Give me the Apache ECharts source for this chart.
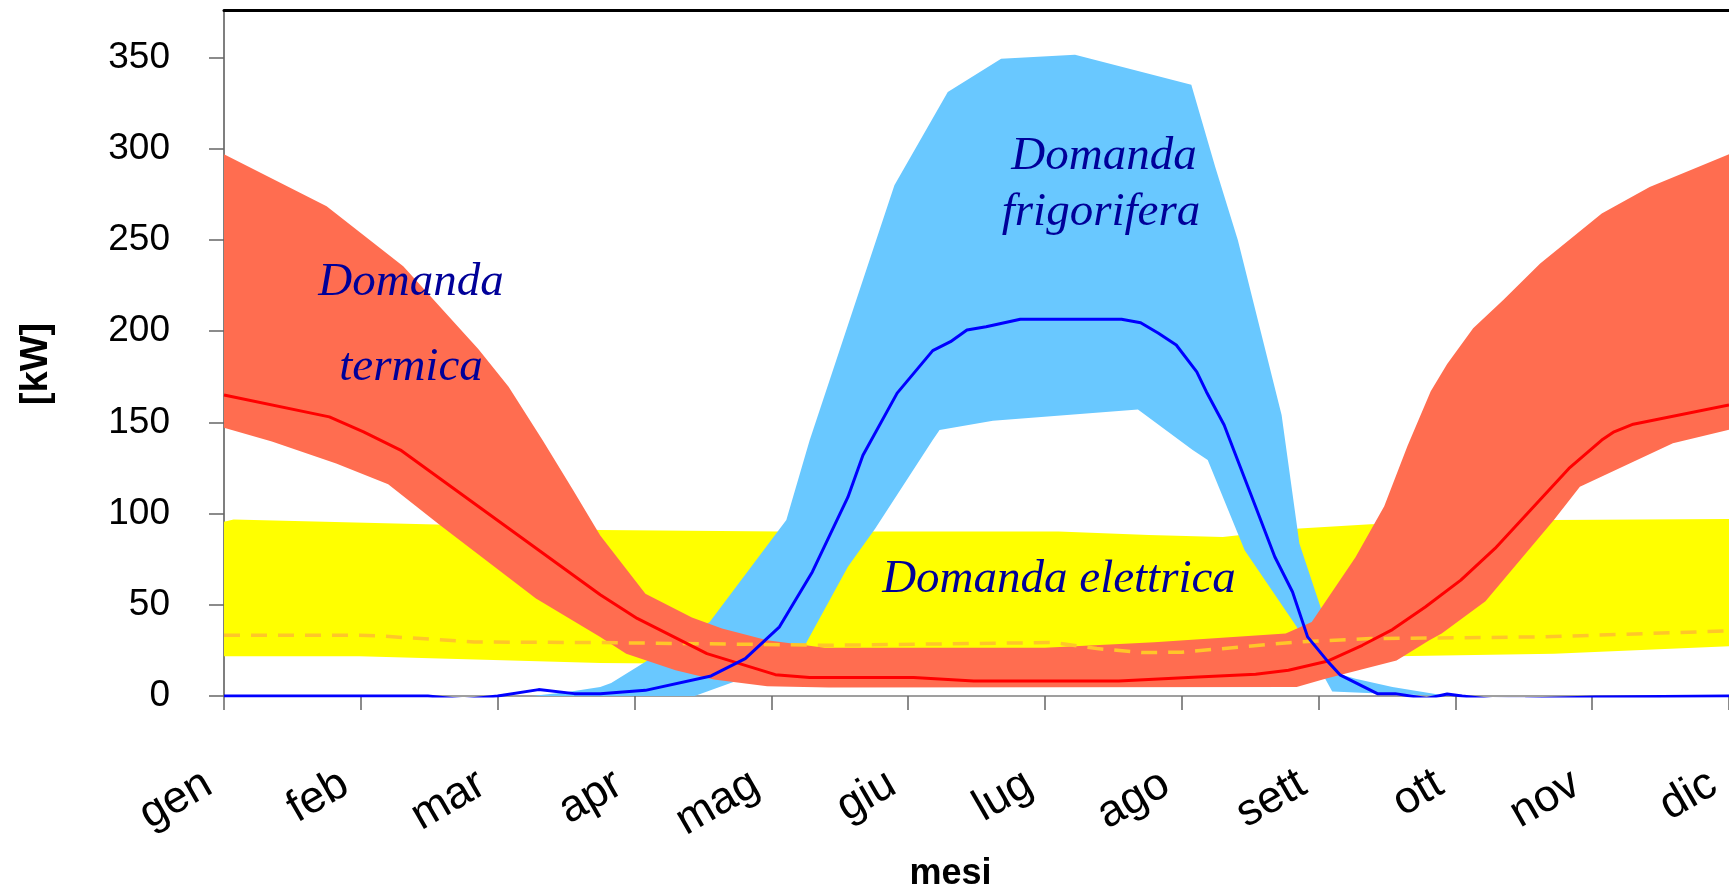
<!DOCTYPE html>
<html>
<head>
<meta charset="utf-8">
<script src="https://cdn.jsdelivr.net/npm/echarts@6/dist/echarts.min.js"></script>
<style>
html,body{margin:0;padding:0;background:#fff;}
#chart{width:1729px;height:889px;}
</style>
</head>
<body>
<div id="chart"></div>
<script>
// x values are in months (0 = gen ... 11 = dic), y values in kW
const months = ['gen','feb','mar','apr','mag','giu','lug','ago','sett','ott','nov','dic'];
const yTicks = [0, 50, 100, 150, 200, 250, 300, 350];
const monthTicks = [0,1,2,3,4,5,6,7,8,9,10,11];

// Domanda termica (band max / min and typical line)
const termicaMax = [[0,297],[0.75,268.5],[1.31,235.5],[1.86,190],[2.08,169.5],[2.33,140],[2.55,113],[2.75,88],[3.08,56],[3.42,43],[3.64,37],[3.97,30.6],[4.39,26.5],[6.0,26.5],[6.8,29.5],[7.76,34.2],[7.95,40.6],[8.27,76],[8.48,104],[8.65,137],[8.82,167],[8.94,182],[9.13,201.5],[9.35,217],[9.62,237],[10.07,264.5],[10.42,279],[11,297]];
const termicaMin = [[0,147],[0.35,139.5],[0.82,127.5],[1.2,116],[1.58,93.6],[2.28,53.4],[2.75,32.4],[2.94,23.2],[3.3,14.1],[3.58,9],[3.97,5.3],[4.42,4.6],[7.84,4.9],[8.05,9.5],[8.57,19.5],[8.81,30.6],[8.9,34.2],[9.22,52],[9.72,96.4],[9.91,114.7],[10.59,138.5],[11,146]];
const termicaLine = [[0,165],[0.77,153],[1.02,144.8],[1.29,134.8],[2.75,55.5],[3.02,42.5],[3.53,23.2],[4.03,11.7],[4.28,10.1],[5.04,10.1],[5.48,8.2],[6.54,8.2],[7.12,10.4],[7.54,11.9],[7.78,14.1],[8.07,19.2],[8.32,27.8],[8.54,36.4],[8.78,48.8],[9.04,63.5],[9.29,80.9],[9.56,102.8],[9.83,124.7],[10.07,140.3],[10.16,144.8],[10.3,149],[11,159.5]];

// Domanda frigorifera
const frigoMax = [[2.25,0],[2.5,2],[2.75,5],[2.83,7.1],[3.55,40.6],[4.11,96.4],[4.28,140],[4.9,280],[5.29,331],[5.68,349.3],[6.22,351.5],[7.07,335],[7.245,290],[7.41,250],[7.73,154],[7.86,83.6],[8.03,45.2],[8.1,18],[8.15,12],[8.27,9.5],[8.54,4.9],[8.92,0.3],[9.0,0]];
const frigoMin = [[2.25,0],[3.44,0],[3.86,11.4],[4.25,28.4],[4.56,70.8],[4.76,91.8],[5.18,140.3],[5.23,145.8],[5.62,150.9],[6.68,157.1],[7.08,134.8],[7.19,129.3],[7.46,79.9],[7.84,37.9],[8.1,2.5],[8.4,1.5],[8.92,0],[9.0,0]];
const frigoLine = [[0,0],[1.49,0],[1.75,-2],[2.0,0],[2.3,3.5],[2.56,1.3],[2.75,1.2],[3.08,3.1],[3.56,11],[3.81,20.5],[4.06,37.9],[4.3,68],[4.56,109],[4.67,132],[4.92,166],[5.18,189.3],[5.31,194.2],[5.43,200.6],[5.57,202.4],[5.82,206.5],[6.56,206.5],[6.7,204.6],[6.83,198.8],[6.96,192.4],[7.11,177.7],[7.18,166.8],[7.31,148.5],[7.38,134.8],[7.54,103.7],[7.68,76.3],[7.81,57],[7.92,32.4],[8.07,18.7],[8.16,11.4],[8.43,1.3],[8.56,1.3],[8.79,-1.4],[8.94,1.1],[9.05,0],[9.27,-1.9],[9.51,-1.6],[10.02,-0.5],[11,0]];

// Domanda elettrica
const elettricaMax = [[0,95.5],[0.07,96.7],[1.55,94],[2.75,91],[4.06,90.2],[6.1,90.2],[6.76,88.2],[7.3,87.2],[7.86,91.8],[8.38,94.2],[9.72,96.4],[11,97]];
const elettricaMin = [[0,21.8],[0.99,21.8],[2.75,18.1],[4.5,17],[7.5,17.5],[8.57,21.8],[9.72,23.2],[11,27.3]];
const elettricaLine = [[0,33.3],[0.99,33.3],[1.16,32.8],[1.83,29.6],[2.75,29.3],[4.42,27.8],[6.07,29.3],[6.38,26],[6.71,23.8],[7.0,24],[7.84,29.6],[8.38,31.5],[9.64,32.4],[11,35.7]];

function band(name, upper, lower, color) {
  return {
    type: 'custom', name: name, silent: true, clip: true,
    data: [[0, 0]],
    encode: {x: 0, y: 1},
    renderItem: function (params, api) {
      const pts = upper.map(p => api.coord(p)).concat(lower.slice().reverse().map(p => api.coord(p)));
      return {type: 'polygon', shape: {points: pts}, style: {fill: color}};
    }
  };
}
function line(name, data, color, width, type) {
  return {
    type: 'line', name: name, data: data, symbol: 'none', showSymbol: false, silent: true,
    lineStyle: {color: color, width: width, type: type || 'solid'}, z: 3
  };
}
function note(text, x, y) {
  return {type: 'text', x: x, y: y, z: 100, zlevel: 1, silent: true,
    style: {text: text, font: 'italic 47px "Liberation Serif", "DejaVu Serif", serif', fill: '#000099', align: 'center', verticalAlign: 'middle'}};
}

const chart = echarts.init(document.getElementById('chart'));
chart.setOption({
  animation: false,
  backgroundColor: '#fff',
  grid: {left: 224, right: 0, top: 10, bottom: 193, containLabel: false, outerBoundsMode: 'none'},
  xAxis: [{
    type: 'value', min: 0, max: 11, interval: 1,
    axisLine: {show: true, onZero: true, lineStyle: {color: '#808080', width: 1.5}},
    axisTick: {show: true, length: 14, customValues: monthTicks, lineStyle: {color: '#666', width: 1.5}},
    axisLabel: {customValues: monthTicks, formatter: v => months[v], rotate: 30, fontSize: 45, color: '#000',
      fontFamily: 'Liberation Sans, Arial, sans-serif', margin: 76, padding: [0, 18, 0, 0]},
    splitLine: {show: false},
    name: 'mesi', nameLocation: 'middle', nameGap: 160,
    nameTextStyle: {fontSize: 36, fontWeight: 'bold', color: '#000', fontFamily: 'Liberation Sans, Arial, sans-serif', padding: [0, 52, 0, 0]}
  }, {
    type: 'value', position: 'top', min: 0, max: 11,
    axisLine: {show: true, lineStyle: {color: '#000', width: 3}},
    axisTick: {show: false}, axisLabel: {show: false}, splitLine: {show: false}
  }],
  yAxis: {
    type: 'value', min: 0, max: 376, interval: 50,
    axisLine: {show: true, lineStyle: {color: '#555', width: 1.5}},
    axisTick: {show: true, length: 15, customValues: yTicks, lineStyle: {color: '#666', width: 1.5}},
    axisLabel: {customValues: yTicks, fontSize: 37, color: '#000', margin: 54, fontFamily: 'Liberation Sans, Arial, sans-serif'},
    splitLine: {show: false},
    name: '[kW]', nameLocation: 'middle', nameGap: 168, nameRotate: 90,
    nameTextStyle: {fontSize: 38, fontWeight: 'bold', color: '#000', fontFamily: 'Liberation Sans, Arial, sans-serif', padding: [0, 22, 0, 0]}
  },
  series: [
    band('Domanda elettrica', elettricaMax, elettricaMin, '#FFFF00'),
    band('Domanda frigorifera', frigoMax, frigoMin, '#69C8FF'),
    band('Domanda termica', termicaMax, termicaMin, '#FF6D50'),
    line('elettrica', elettricaLine, '#FFC629', 3.5, [16, 11]),
    line('termica', termicaLine, '#FF0000', 3),
    line('frigorifera', frigoLine, '#0000FF', 3)
  ],
  graphic: [
    note('Domanda', 411, 283),
    note('termica', 411, 368),
    note('Domanda', 1104, 157),
    note('frigorifera', 1101, 213),
    note('Domanda elettrica', 1059, 580)
  ]
});
</script>
</body>
</html>
